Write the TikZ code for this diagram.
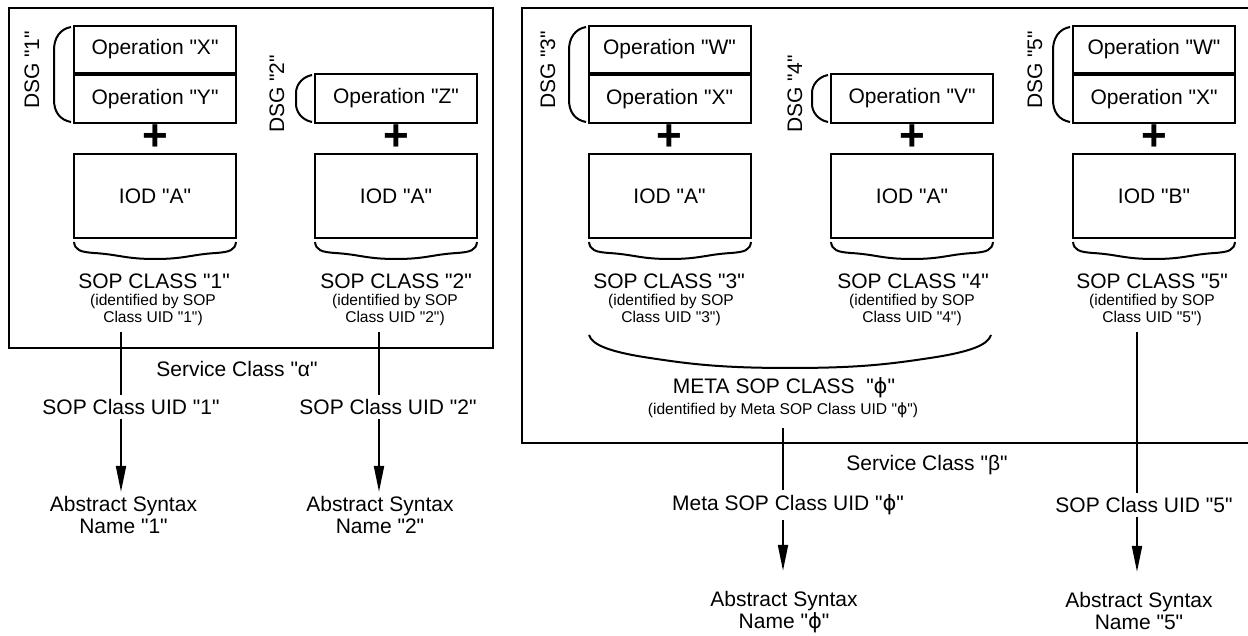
\documentclass[tikz,border=0pt]{standalone}
\usepackage{fontspec}
\setmainfont{Liberation Sans}[Ligatures=TeXOff]
\newfontfamily\phifont{DejaVu Sans}
\usetikzlibrary{arrows.meta}
\newcommand{\myphi}{{\phifont ϕ}}
\begin{document}
\begin{tikzpicture}[x=0.5pt,y=-0.5pt,
  opbox/.style={draw, line width=1pt, minimum width=81pt, inner sep=0pt, font=\fontsize{10.5pt}{12pt}\selectfont},
  iodbox/.style={draw, line width=1pt, minimum width=81pt, minimum height=42pt, inner sep=0pt, font=\fontsize{10.5pt}{12pt}\selectfont},
  lbl/.style={font=\fontsize{10.5pt}{11pt}\selectfont, align=center, inner sep=2pt},
  sml/.style={font=\fontsize{7.8pt}{8.5pt}\selectfont, align=center, inner sep=1pt},
  plussign/.style={font=\fontsize{22pt}{22pt}\selectfont\bfseries, inner sep=0pt},
  dsglbl/.style={rotate=90, font=\fontsize{10.5pt}{12pt}\selectfont, inner sep=0pt},
  brc/.style={line width=1pt},
  frame/.style={line width=1pt},
  conn/.style={line width=1pt},
  arr/.style={conn, -{Triangle[length=13pt,width=5pt]}},
  dsgtwo/.pic={\draw[brc] (-3,27) .. controls (-14,29) and (-20,38) .. (-20,50) -- (-20,100) .. controls (-20,112) and (-14,120) .. (-3,122);},
  dsgone/.pic={\draw[brc] (-3,75) .. controls (-13,77) and (-19,85) .. (-19,93) -- (-19,104) .. controls (-19,112) and (-13,120) .. (-3,122);},
  undbrace/.pic={\draw[brc] (0,242) .. controls (1,250) and (6,252) .. (20,253) .. controls (45,254.5) and (51,259) .. (81,259) .. controls (111,259) and (117,254.5) .. (142,253) .. controls (156,252) and (161,250) .. (162,242);}
]
\useasboundingbox (0,0) rectangle (1248,636);

% ===== Left panel =====
\draw[frame] (9,8) rectangle (493,348);

\node[opbox, minimum height=23.5pt] (opX) at (155,49.5) {Operation "X"};
\node[opbox, minimum height=24pt] (opY) at (155,99) {Operation "Y"};
\node[plussign] (plus1) at (155,138) {+};
\node[iodbox] (iodA1) at (155,196) {IOD "A"};
\pic at (74,0) {dsgtwo};
\node[dsglbl] (dsg1) at (32,70) {DSG "1"};
\pic at (74,0) {undbrace};

\node[opbox, minimum height=24.5pt] (opZ) at (396,98.5) {Operation "Z"};
\node[plussign] (plus2) at (396,138) {+};
\node[iodbox] (iodA2) at (396,196) {IOD "A"};
\pic at (315,0) {dsgone};
\node[dsglbl] (dsg2) at (277,94) {DSG "2"};
\pic at (315,0) {undbrace};

\node[lbl] (sop1) at (154,281) {SOP CLASS "1"};
\node[sml] (sop1id) at (153,310) {(identified by SOP\\Class UID "1")};
\node[lbl] (sop2) at (396,281) {SOP CLASS "2"};
\node[sml] (sop2id) at (395,310) {(identified by SOP\\Class UID "2")};

\node[lbl] (svcA) at (237,369) {Service Class "α"};
\node[lbl] (uid1) at (131,407) {SOP Class UID "1"};
\node[lbl] (uid2) at (388,407) {SOP Class UID "2"};
\node[lbl] (as1) at (123.5,515) {Abstract Syntax\\Name "1"};
\node[lbl] (as2) at (380,515) {Abstract Syntax\\Name "2"};

\coordinate (c1) at (121,332);
\coordinate (c2) at (379,332);
\draw[conn] (c1) -- (c1 |- uid1.north);
\draw[arr] (c1 |- uid1.south) -- (c1 |- as1.north);
\draw[conn] (c2) -- (c2 |- uid2.north);
\draw[arr] (c2 |- uid2.south) -- (c2 |- as2.north);

% ===== Right panel =====
\draw[frame] (1252,8) -- (522,8) -- (522,443) -- (1252,443);

\node[opbox, minimum height=23.5pt] (opW3) at (669.5,49.5) {Operation "W"};
\node[opbox, minimum height=24pt] (opX3) at (669.5,99) {Operation "X"};
\node[plussign] (plus3) at (669.5,138) {+};
\node[iodbox] (iodA3) at (669.5,196) {IOD "A"};
\pic at (589,0) {dsgtwo};
\node[dsglbl] (dsg3) at (548,70) {DSG "3"};
\pic at (589,0) {undbrace};

\node[opbox, minimum height=24.5pt] (opV) at (912,98.5) {Operation "V"};
\node[plussign] (plus4) at (912,138) {+};
\node[iodbox] (iodA4) at (912,196) {IOD "A"};
\pic at (831,0) {dsgone};
\node[dsglbl] (dsg4) at (795,94) {DSG "4"};
\pic at (831,0) {undbrace};

\node[opbox, minimum height=23.5pt] (opW5) at (1154,49.5) {Operation "W"};
\node[opbox, minimum height=24pt] (opX5) at (1154,99) {Operation "X"};
\node[plussign] (plus5) at (1154,138) {+};
\node[iodbox] (iodB) at (1154,196) {IOD "B"};
\pic at (1073,0) {dsgtwo};
\node[dsglbl] (dsg5) at (1035,70) {DSG "5"};
\pic at (1073,0) {undbrace};

\node[lbl] (sop3) at (669,281) {SOP CLASS "3"};
\node[sml] (sop3id) at (671,310) {(identified by SOP\\Class UID "3")};
\node[lbl] (sop4) at (913,281) {SOP CLASS "4"};
\node[sml] (sop4id) at (912,310) {(identified by SOP\\Class UID "4")};
\node[lbl] (sop5) at (1152,281) {SOP CLASS "5"};
\node[sml] (sop5id) at (1152,310) {(identified by SOP\\Class UID "5")};

\draw[brc] (589,335) .. controls (592,345) and (610,352) .. (650,358) .. controls (690,364) and (720,368) .. (790,368) .. controls (860,368) and (890,364) .. (930,358) .. controls (970,352) and (988,345) .. (991,335);

\node[lbl] (meta) at (784,388) {META SOP CLASS \ "\myphi"};
\node[sml] (metaid) at (783,410) {(identified by Meta SOP Class UID "\myphi")};

\node[lbl] (svcB) at (927,465) {Service Class "β"};
\node[lbl] (metauid) at (788,505) {Meta SOP Class UID "\myphi"};
\node[lbl] (uid5) at (1144,505) {SOP Class UID "5"};
\node[lbl] (asphi) at (784,612) {Abstract Syntax\\Name "\myphi"};
\node[lbl] (as5) at (1139,611) {Abstract Syntax\\Name "5"};

\coordinate (c3) at (783,428);
\coordinate (c5) at (1137,332);
\draw[conn] (c3) -- (c3 |- metauid.north);
\draw[arr, shorten >=8pt] (c3 |- metauid.south) -- (c3 |- asphi.north);
\draw[conn] (c5) -- (c5 |- uid5.north);
\draw[arr, shorten >=8pt] (c5 |- uid5.south) -- (c5 |- as5.north);
\end{tikzpicture}
\end{document}
